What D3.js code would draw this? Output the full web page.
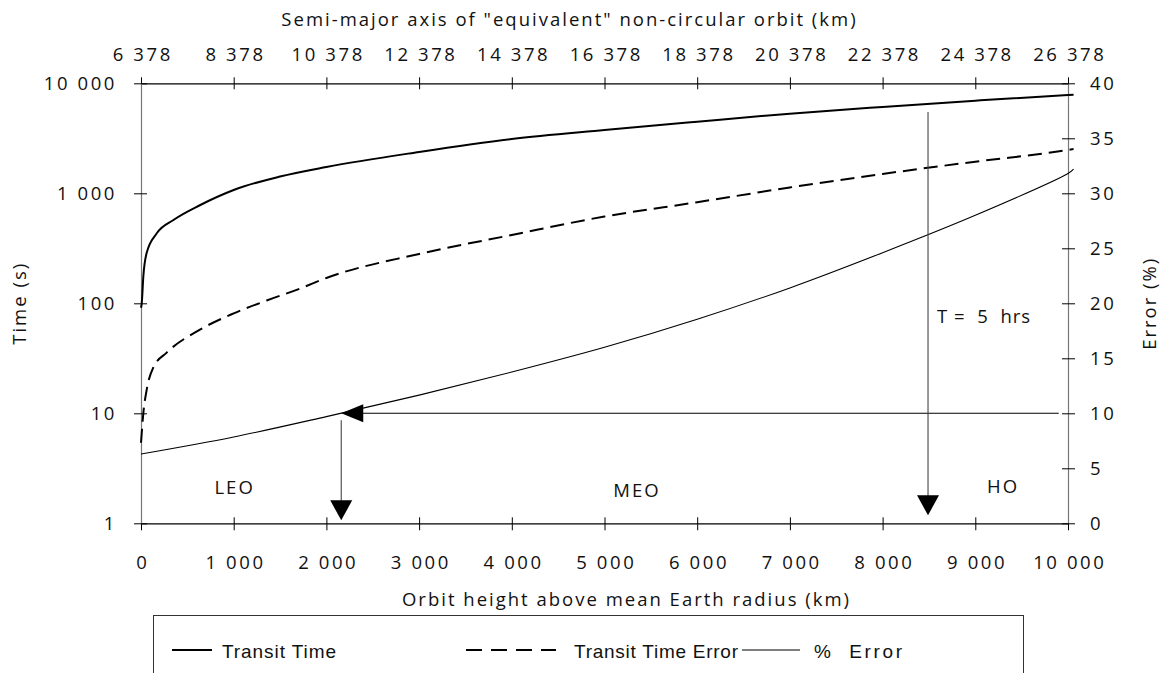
<!DOCTYPE html>
<html>
<head>
<meta charset="utf-8">
<script src="https://cdn.jsdelivr.net/npm/d3@7"></script>
<style>
  html, body { margin: 0; padding: 0; background: #fff; }
  svg { display: block; }
  text { font-family: "Open Sans", "DejaVu Sans", sans-serif; fill: #111; white-space: pre; }
  .tick-label { font-size: 18.5px; letter-spacing: 2.6px; }
  .title { font-size: 18.5px; letter-spacing: 2px; }
  .legend-text { font-family: "Liberation Sans", sans-serif; font-size: 19px; }
</style>
</head>
<body>
<svg id="chart" width="1164" height="673"></svg>
<script>
// ---------------- data ----------------
const heightsTransit = [0, 8, 25, 60, 170, 350, 640, 1000, 1500, 2000, 3000, 4000, 5000, 6000, 7000, 8000, 9000, 10000, 10060];
const transitTime    = [91, 100, 175, 285, 433, 572, 783, 1072, 1420, 1733, 2376, 3120, 3765, 4480, 5300, 6100, 6950, 7830, 7880];

const heightsError   = [0, 25, 61, 133, 277, 636, 1000, 1356, 1715, 2000, 3000, 4000, 5000, 6000, 7000, 8000, 9000, 10000, 10060];
const transitError   = [5.4, 10, 16.3, 26.1, 35.6, 57.6, 81, 106, 136, 170, 281, 418, 615, 830, 1130, 1500, 1940, 2480, 2530];

const heightsPct     = [0, 1000, 2000, 3000, 4000, 5000, 6000, 7000, 8000, 9000, 10000, 10060];
const pctError       = [6.3, 7.85, 9.7, 11.65, 13.75, 16.0, 18.55, 21.4, 24.6, 28.0, 31.8, 32.2];

const bottomTicks    = [0, 1000, 2000, 3000, 4000, 5000, 6000, 7000, 8000, 9000, 10000];
const topTickLabels  = ["6 378", "8 378", "10 378", "12 378", "14 378", "16 378", "18 378", "20 378", "22 378", "24 378", "26 378"];
const leftTicks      = [1, 10, 100, 1000, 10000];
const rightTicks     = [0, 5, 10, 15, 20, 25, 30, 35, 40];

const regionLabels   = [{name: "LEO", h: 1010, pct: 2.7}, {name: "MEO", h: 5350, pct: 2.4}, {name: "HO", h: 9300, pct: 2.8}];
const arrowA = {h: 2160, pct: 10, hEnd: 9900};   // 10% error horizontal/vertical arrows
const arrowB = {h: 8490, pctTop: 37.4};          // T = 5 hrs arrow
const noteText = "T =  5  hrs";

const legendItems = [
  {label: "Transit Time", dash: null, width: 2},
  {label: "Transit Time Error", dash: "16,9", width: 2},
  {label: "%  Error", dash: null, width: 1.1}
];

// ---------------- layout ----------------
const svg = d3.select("#chart");
const X0 = 141, X1 = 1068, YT = 83.3, YB = 523.3;

const x = d3.scaleLinear().domain([0, 10000]).range([X0, X1]);
const xTop = d3.scaleLinear().domain([6378, 26378]).range([X0, X1]);
const yL = d3.scaleLog().domain([1, 10000]).range([YB, YT]);
const yR = d3.scaleLinear().domain([0, 40]).range([YB, YT]);

const fmtSpace = v => d3.format(",")(v).replace(/,/g, "\u00A0");

// bottom axis
const gB = svg.append("g").attr("transform", `translate(0,${YB})`)
  .call(d3.axisBottom(x).tickValues(bottomTicks).tickSize(0).tickFormat(fmtSpace));
gB.select(".domain").attr("stroke", "#000").attr("stroke-width", 1.2);
gB.selectAll(".tick line").attr("y1", -6).attr("y2", 7).attr("stroke", "#000");
gB.selectAll(".tick text").attr("class", "tick-label").attr("dy", 0).attr("y", 46).attr("dx", 1.3).attr("font-size", null).attr("font-family", null);

// top axis
const gT = svg.append("g").attr("transform", `translate(0,${YT})`)
  .call(d3.axisTop(xTop).tickValues(d3.range(6378, 26379, 2000)).tickSize(0).tickFormat((d, i) => topTickLabels[i]));
gT.select(".domain").attr("stroke", "#000").attr("stroke-width", 1.2);
gT.selectAll(".tick line").attr("y1", -6).attr("y2", 6).attr("stroke", "#000");
gT.selectAll(".tick text").attr("class", "tick-label").attr("y", -22).attr("dx", 1.3).attr("font-size", null).attr("font-family", null);

// left axis
const gL = svg.append("g").attr("transform", `translate(${X0},0)`)
  .call(d3.axisLeft(yL).tickValues(leftTicks).tickSize(0).tickFormat(fmtSpace));
gL.select(".domain").attr("stroke", "#777").attr("stroke-width", 1.2);
gL.selectAll(".tick line").attr("x1", -7).attr("x2", 6).attr("stroke", "#000");
gL.selectAll(".tick text").attr("class", "tick-label").attr("x", -24).attr("font-size", null).attr("font-family", null);

// right axis
const gR = svg.append("g").attr("transform", `translate(${X1},0)`)
  .call(d3.axisRight(yR).tickValues(rightTicks).tickSize(0));
gR.select(".domain").attr("stroke", "#777").attr("stroke-width", 1.2);
gR.selectAll(".tick line").attr("x1", -6).attr("x2", 7).attr("stroke", "#000");
gR.selectAll(".tick text").attr("class", "tick-label").attr("x", 22).attr("font-size", null).attr("font-family", null);

// axis titles
svg.append("text").attr("class", "title").attr("x", (X0 + X1) / 2 - 35).attr("y", 26).attr("text-anchor", "middle")
  .text("Semi-major axis of \"equivalent\" non-circular orbit (km)");
svg.append("text").attr("class", "title").attr("x", (X0 + X1) / 2 + 22).attr("y", 606).attr("text-anchor", "middle")
  .text("Orbit height above mean Earth radius (km)");
svg.append("text").attr("class", "title").attr("transform", `translate(26,${(YT + YB) / 2}) rotate(-90)`).attr("text-anchor", "middle")
  .text("Time (s)");
svg.append("text").attr("class", "title").attr("transform", `translate(1156,${(YT + YB) / 2}) rotate(-90)`).attr("text-anchor", "middle")
  .text("Error (%)");

// ---------------- series ----------------
const lineL = d3.line().curve(d3.curveMonotoneX);
svg.append("path")
  .attr("d", lineL(heightsTransit.map((h, i) => [x(h), yL(transitTime[i])])))
  .attr("fill", "none").attr("stroke", "#000").attr("stroke-width", 2);
svg.append("path")
  .attr("d", lineL(heightsError.map((h, i) => [x(h), yL(transitError[i])])))
  .attr("fill", "none").attr("stroke", "#000").attr("stroke-width", 2).attr("stroke-dasharray", "14,7");
svg.append("path")
  .attr("d", d3.line().curve(d3.curveCatmullRom)(heightsPct.map((h, i) => [x(h), yR(pctError[i])])))
  .attr("fill", "none").attr("stroke", "#000").attr("stroke-width", 1.1);

// ---------------- annotations ----------------
const ax = x(arrowA.h), ay = yR(arrowA.pct);
svg.append("line").attr("x1", ax + 20).attr("x2", x(arrowA.hEnd)).attr("y1", ay).attr("y2", ay)
  .attr("stroke", "#000").attr("stroke-width", 1.1);
svg.append("path").attr("d", `M${ax},${ay} L${ax + 22},${ay - 9} L${ax + 22},${ay + 9} Z`).attr("fill", "#000");
svg.append("line").attr("x1", ax).attr("x2", ax).attr("y1", ay + 7).attr("y2", YB - 22)
  .attr("stroke", "#444").attr("stroke-width", 1.1);
svg.append("path").attr("d", `M${ax},${YB - 3} L${ax - 11},${YB - 23} L${ax + 11},${YB - 23} Z`).attr("fill", "#000");

const bx = x(arrowB.h);
svg.append("line").attr("x1", bx).attr("x2", bx).attr("y1", yR(arrowB.pctTop)).attr("y2", YB - 26)
  .attr("stroke", "#444").attr("stroke-width", 1.1);
svg.append("path").attr("d", `M${bx},${YB - 8} L${bx - 11},${YB - 28} L${bx + 11},${YB - 28} Z`).attr("fill", "#000");
svg.append("text").attr("class", "title").style("letter-spacing", "1px").attr("x", bx + 9).attr("y", yR(18.2)).text(noteText);

svg.selectAll(".region").data(regionLabels).enter().append("text")
  .attr("class", "title").attr("text-anchor", "middle")
  .attr("x", d => x(d.h)).attr("y", d => yR(d.pct)).text(d => d.name);

// ---------------- legend ----------------
svg.append("rect").attr("x", 153.5).attr("y", 615.5).attr("width", 870).attr("height", 80)
  .attr("fill", "none").attr("stroke", "#333").attr("stroke-width", 1);
const legX = [172, 466, 742];
const legLen = [40, 90, 58];
const legTextX = [222, 574, 814];
const legTextW = [114, 164, 88];
legendItems.forEach((d, i) => {
  svg.append("line").attr("x1", legX[i]).attr("x2", legX[i] + legLen[i]).attr("y1", 650).attr("y2", 650)
    .attr("stroke", "#000").attr("stroke-width", d.width).attr("stroke-dasharray", d.dash);
  svg.append("text").attr("class", "legend-text").attr("x", legTextX[i]).attr("y", 658)
    .attr("textLength", legTextW[i]).attr("lengthAdjust", "spacing").text(d.label);
});
</script>
</body>
</html>
